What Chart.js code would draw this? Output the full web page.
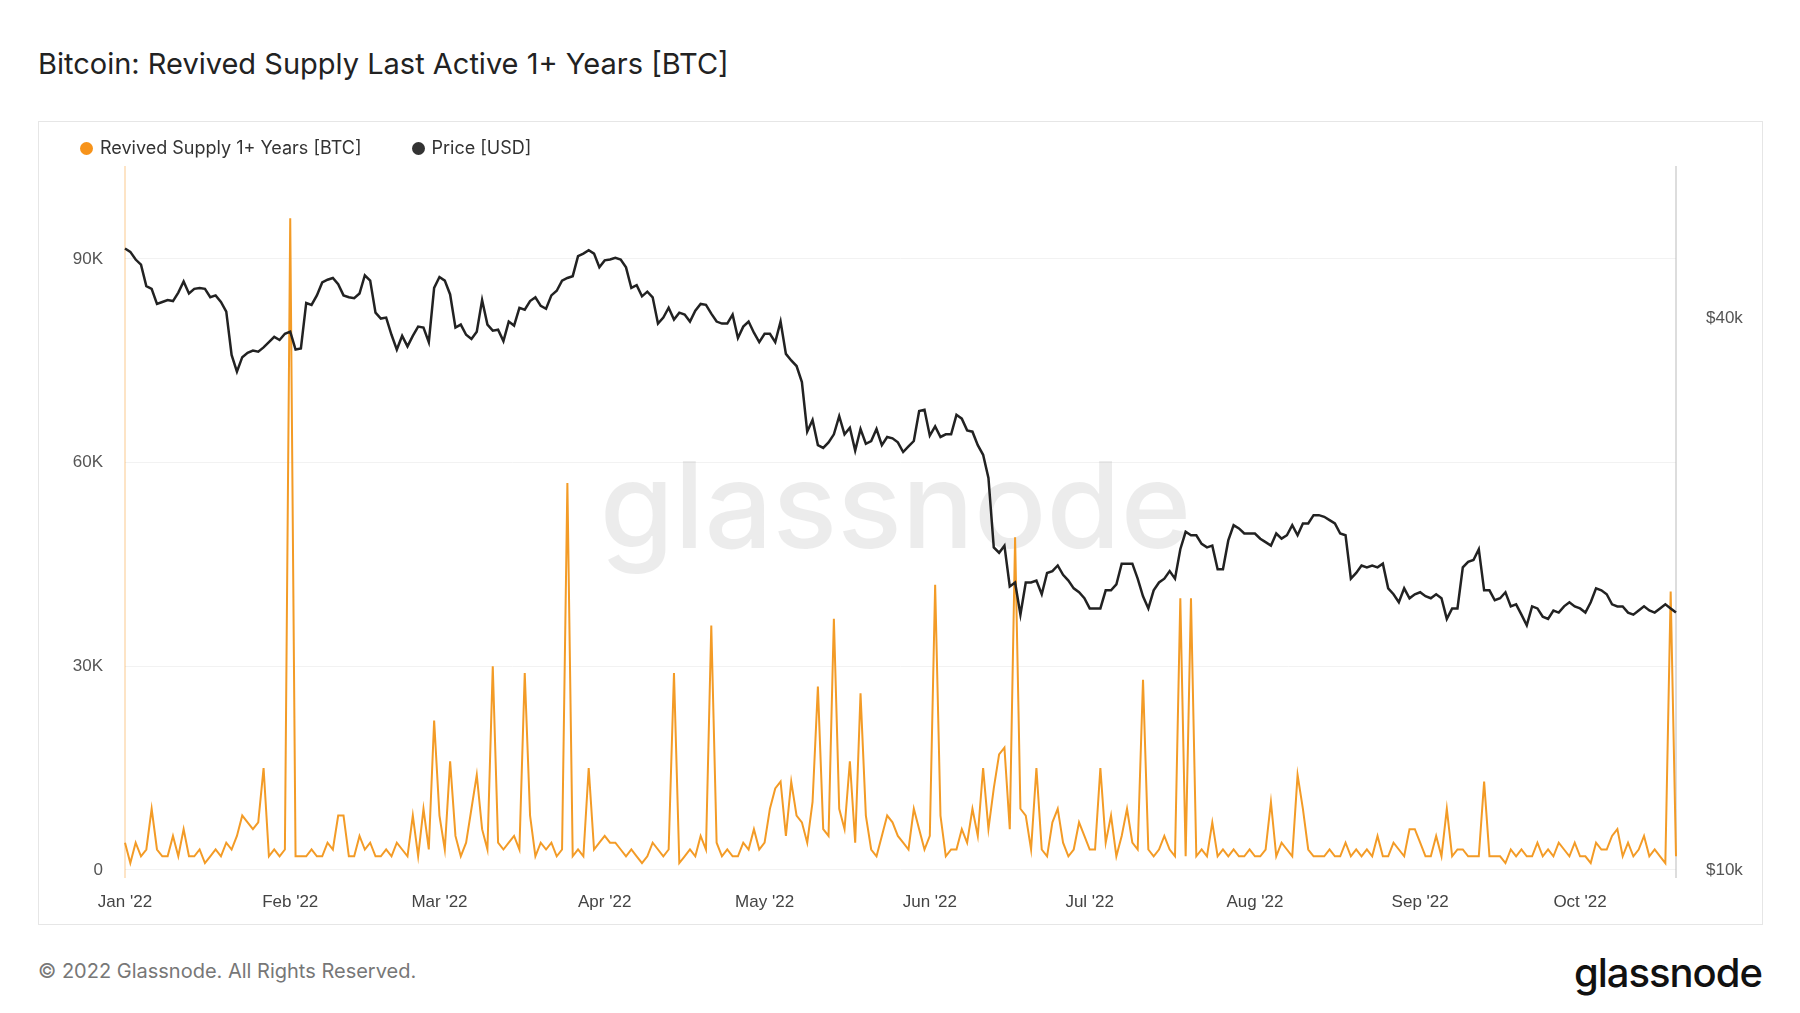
<!DOCTYPE html>
<html><head><meta charset="utf-8">
<script src="https://cdn.jsdelivr.net/npm/chart.js@4"></script>
<style>
body{margin:0;width:1800px;height:1013px;background:#fff;font-family:Inter,"Noto Sans",sans-serif;position:relative;overflow:hidden}
#title{position:absolute;left:38px;top:46px;font-size:29px;color:#222;font-weight:400}
#box{position:absolute;left:38px;top:121px;width:1723px;height:802px;border:1px solid #e6e6e6}
#legend{position:absolute;left:80px;top:137px;font-size:18px;color:#333;display:flex;gap:50px}
#legend span.d{display:inline-block;width:13px;height:13px;border-radius:50%;margin-right:7px;vertical-align:-1px}
#foot{position:absolute;left:38px;top:959px;font-size:20px;color:#777}
#logo{position:absolute;right:38px;top:948px;font-size:40px;color:#111;font-weight:500;letter-spacing:-1px}
</style></head><body>
<div id="title">Bitcoin: Revived Supply Last Active 1+ Years [BTC]</div>
<div id="box"><canvas id="c" width="1723" height="802"></canvas></div>
<div id="legend"><div><span class="d" style="background:#f7931a"></span>Revived Supply 1+ Years [BTC]</div><div><span class="d" style="background:#333"></span>Price [USD]</div></div>
<div id="foot">© 2022 Glassnode. All Rights Reserved.</div>
<div id="logo">glassnode</div>
<script>
const monthNames=["Jan","Feb","Mar","Apr","May","Jun","Jul","Aug","Sep","Oct"];
const supplyK=[
4,1,4,2,3,9,3,2,2,5,2,6,2,2,3,1,2,3,2,4,3,5,8,7,6,7,15,2,3,2,3,
96,2,2,2,3,2,2,4,3,8,8,2,2,5,3,4,2,2,3,2,4,3,2,8,2,9,3,22,
8,3,16,5,2,4,9,14,6,3,30,4,3,4,5,3,29,8,2,4,3,4,2,3,57,2,3,2,15,3,4,
5,4,4,3,2,3,2,1,2,4,3,2,3,29,1,2,3,2,5,3,36,4,2,3,2,2,4,3,6,3,
4,9,12,13,5,13,8,7,4,10,27,6,5,37,9,6,16,4,26,8,3,2,5,8,7,5,4,3,9,6,3,
5,42,8,2,3,3,6,4,9,5,15,6,12,17,18,6,49,9,8,3,15,3,2,7,9,4,2,3,7,5,
3,3,15,4,8,2,5,9,4,3,28,3,2,3,5,3,2,40,2,40,2,3,2,7,2,3,2,3,2,2,3,
2,2,3,10,2,4,3,2,14,9,3,2,2,2,3,2,2,4,2,3,2,3,2,5,2,2,4,3,2,6,6,
4,2,2,5,2,9,2,3,3,2,2,2,13,2,2,2,1,3,2,3,2,2,4,2,3,2,4,3,2,4,
2,2,1,4,3,3,5,6,2,4,2,3,5,2,3,2,1,41,2];
const priceK=[
47.7,47.3,46.4,45.8,43.4,43.1,41.5,41.7,41.9,41.8,42.7,43.9,42.6,43.1,43.2,43.1,42.2,42.4,41.7,40.7,36.5,35.0,36.3,36.7,36.9,36.8,37.2,37.7,38.2,37.9,38.5,
38.7,37.0,37.1,41.6,41.4,42.4,43.8,44.1,44.3,43.6,42.4,42.2,42.1,42.6,44.6,44.0,40.6,40.0,40.1,38.4,37.0,38.3,37.3,38.3,39.2,39.1,37.7,43.2,
44.4,44.0,42.5,39.1,39.4,38.4,38.0,38.7,41.9,39.4,38.8,38.9,37.8,39.7,39.3,41.1,40.9,41.8,42.2,41.3,41.0,42.4,42.9,44.0,44.3,44.5,46.8,47.1,47.5,47.1,45.5,
46.3,46.4,46.6,46.4,45.5,43.2,43.5,42.3,42.8,42.2,39.5,40.1,41.1,39.9,40.6,40.4,39.7,40.8,41.5,41.4,40.5,39.7,39.5,39.5,40.4,38.1,39.2,39.7,38.6,37.7,
38.5,38.5,37.7,39.7,36.6,36.0,35.5,34.1,30.1,31.0,29.1,28.9,29.3,29.9,31.3,29.9,30.4,28.7,30.3,29.2,29.4,30.3,29.1,29.7,29.6,29.3,28.6,29.0,29.4,31.7,31.8,
29.8,30.5,29.7,29.9,29.9,31.4,31.1,30.2,30.1,29.1,28.4,26.8,22.5,22.2,22.6,20.4,20.6,19.0,20.6,20.6,20.7,20.0,21.1,21.2,21.5,21.0,20.7,20.3,20.1,19.8,
19.3,19.3,19.3,20.2,20.2,20.5,21.6,21.6,21.6,20.8,19.9,19.3,20.2,20.6,20.8,21.2,20.8,22.4,23.4,23.2,23.2,22.7,22.5,22.6,21.3,21.3,22.9,23.8,23.6,23.3,23.3,
23.3,23.0,22.8,22.6,23.3,23.0,23.2,23.8,23.2,23.9,23.9,24.4,24.4,24.3,24.1,23.9,23.3,23.2,20.8,21.1,21.5,21.4,21.5,21.4,21.6,20.3,20.0,19.6,20.3,19.8,20.0,
20.1,19.9,19.8,20.0,19.8,18.8,19.3,19.3,21.4,21.7,21.8,22.4,20.2,20.2,19.7,19.8,20.1,19.4,19.5,19.0,18.5,19.4,19.3,18.9,18.8,19.2,19.1,19.4,19.6,19.4,
19.3,19.1,19.6,20.3,20.2,20.0,19.5,19.4,19.4,19.1,19.0,19.2,19.4,19.2,19.1,19.3,19.5,19.3,19.1];
const leftTicks=[0,30000,60000,90000];
const rightTicks=[10000,40000];
const n=Math.min(supplyK.length,priceK.length);
const labels=[];
for(let i=0;i<n;i++){const d=new Date(Date.UTC(2022,0,1+i));labels.push(d.getUTCDate()===1?monthNames[d.getUTCMonth()]+" '22":"");}
const wm={id:'wm',beforeDatasetsDraw(ch){const a=ch.chartArea,c=ch.ctx;c.save();c.font='500 120px Inter, sans-serif';c.fillStyle='rgba(0,0,0,0.075)';c.textAlign='center';c.textBaseline='middle';c.fillText('glassnode',(a.left+a.right)/2-5,(a.top+a.bottom)/2-10);
c.strokeStyle='rgba(247,147,26,0.25)';c.lineWidth=2;c.beginPath();c.moveTo(a.left,a.top);c.lineTo(a.left,a.bottom);c.stroke();
c.strokeStyle='#bbb';c.lineWidth=1;c.beginPath();c.moveTo(a.right,a.top);c.lineTo(a.right,a.bottom);c.stroke();c.restore();}};
new Chart(document.getElementById('c'),{type:'line',
data:{labels,datasets:[
{label:'Price [USD]',data:priceK.slice(0,n).map(v=>v*1000),yAxisID:'yR',borderColor:'#222',borderWidth:2.5,pointRadius:0,tension:0,order:0},
{label:'Revived Supply 1+ Years [BTC]',data:supplyK.slice(0,n).map(v=>v*1000),yAxisID:'yL',borderColor:'#f39b26',borderWidth:2,pointRadius:0,tension:0,order:1}]},
options:{responsive:false,animation:false,layout:{padding:{top:44,left:0,right:0,bottom:0}},
plugins:{legend:{display:false},tooltip:{enabled:false}},
scales:{
x:{offset:false,grid:{display:false},border:{display:false},ticks:{autoSkip:false,maxRotation:0,color:'#444',font:{size:17},padding:6,callback:(v,i)=>labels[i]},afterFit:s=>{s.height=46}},
yL:{position:'left',min:-1200,max:103700,grid:{color:'#f2f2f2',drawTicks:false},border:{display:false},afterBuildTicks:s=>{s.ticks=leftTicks.map(v=>({value:v}))},ticks:{color:'#555',font:{size:17},padding:22,callback:v=>v===0?'0':(v/1000)+'K'},afterFit:s=>{s.width=86}},
yR:{position:'right',type:'logarithmic',min:9800,max:58700,grid:{display:false},border:{display:false},afterBuildTicks:s=>{s.ticks=rightTicks.map(v=>({value:v}))},ticks:{color:'#555',font:{size:17},padding:22,callback:v=>'$'+(v/1000)+'k'},afterFit:s=>{s.width=86}}
}},plugins:[wm]});
</script></body></html>
